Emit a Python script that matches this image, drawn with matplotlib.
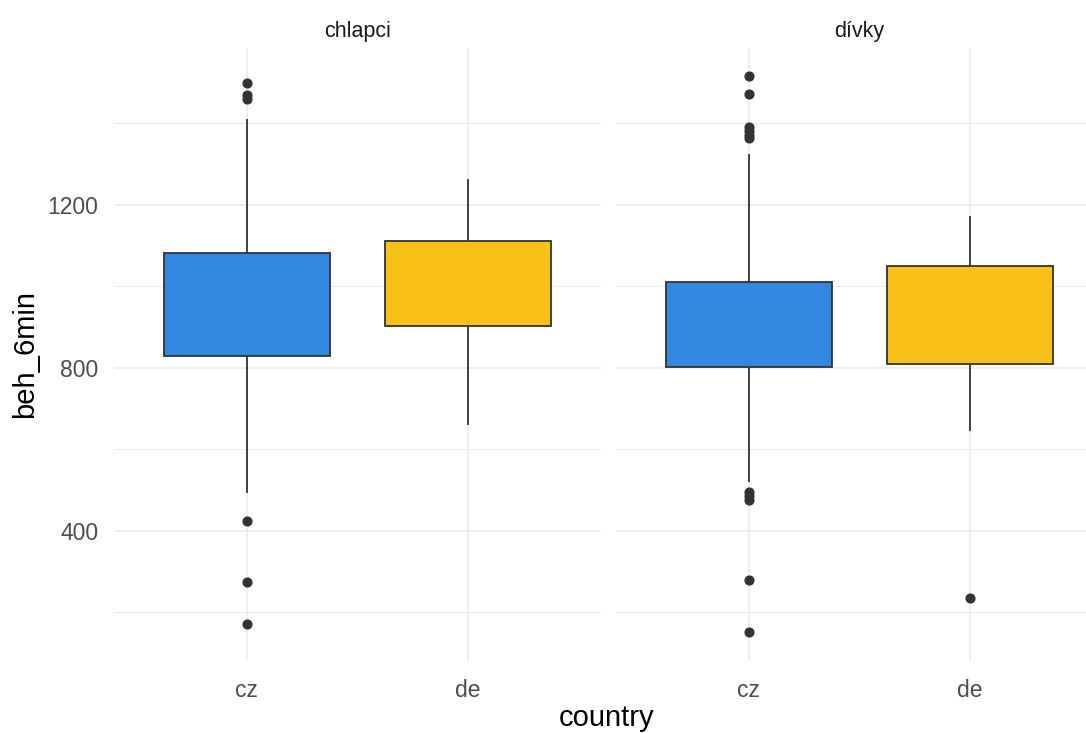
import matplotlib.pyplot as plt

plt.rcParams['font.family'] = ['Liberation Sans', 'DejaVu Sans']

panels = ['chlapci', 'dívky']
countries = ['cz', 'de']
fill_colors = ['#3288E0', '#F8C118']

# box statistics: [cz, de] for each panel
q1 = {'chlapci': [829, 903], 'dívky': [803, 809]}
med = {'chlapci': [952, 1020], 'dívky': [914, 952]}
q3 = {'chlapci': [1081, 1112], 'dívky': [1012, 1051]}
whislo = {'chlapci': [496, 662], 'dívky': [521, 648]}
whishi = {'chlapci': [1409, 1261], 'dívky': [1323, 1171]}
fliers = {
    'chlapci': [[1500, 1469, 1460, 424, 274, 171], []],
    'dívky': [[1517, 1473, 1392, 1382, 1372, 1365, 495, 485, 475, 279, 151], [234]],
}

W, H = 1086, 733
fig = plt.figure(figsize=(W / 100, H / 100), dpi=100)
ax_left = [113.7, 616]
ax_w = 487
top_px, bot_px = 48, 660

grid_col = '#EBEBEB'
axes = []
for i, p in enumerate(panels):
    ax = fig.add_axes([ax_left[i] / W, (H - bot_px) / H, ax_w / W, (bot_px - top_px) / H])
    axes.append(ax)
    stats = []
    for j, c in enumerate(countries):
        stats.append(dict(med=med[p][j], q1=q1[p][j], q3=q3[p][j],
                          whislo=whislo[p][j], whishi=whishi[p][j],
                          fliers=fliers[p][j], label=c))
    bp = ax.bxp(stats, positions=[1, 2], widths=0.75, patch_artist=True,
                showcaps=False,
                boxprops=dict(edgecolor='#333333', linewidth=1.3),
                medianprops=dict(color='#333333', linewidth=2.8),
                whiskerprops=dict(color='#333333', linewidth=1.3),
                flierprops=dict(marker='o', markerfacecolor='#333333',
                                markeredgecolor='#333333', markersize=6.3))
    for patch, col in zip(bp['boxes'], fill_colors):
        patch.set_facecolor(col)
        patch.set_zorder(3)
    ax.set_xlim(0.4, 2.6)
    ax.set_ylim(82.7, 1585.3)
    ax.set_yticks([400, 800, 1200])
    ax.set_yticks([200, 600, 1000, 1400], minor=True)
    ax.set_xticks([1, 2])
    ax.set_xticklabels(countries)
    ax.grid(True, which='major', color=grid_col, linewidth=1.2, zorder=0)
    ax.grid(True, which='minor', axis='y', color=grid_col, linewidth=0.7, zorder=0)
    ax.set_axisbelow(True)
    for s in ax.spines.values():
        s.set_visible(False)
    ax.tick_params(which='both', length=0, labelsize=16.5, labelcolor='#4D4D4D')
    ax.tick_params(axis='x', pad=14)
    ax.tick_params(axis='y', pad=11)
    if i > 0:
        ax.tick_params(axis='y', labelleft=False)
    ax.set_title(p, fontsize=15.5, color='#1A1A1A', pad=8)

axes[0].set_ylabel('beh_6min', fontsize=21, color='black', labelpad=6)
fig.text(607 / W, 1 - 718 / H, 'country', ha='center', va='center', fontsize=21)

fig.savefig('out.png', dpi=100)
